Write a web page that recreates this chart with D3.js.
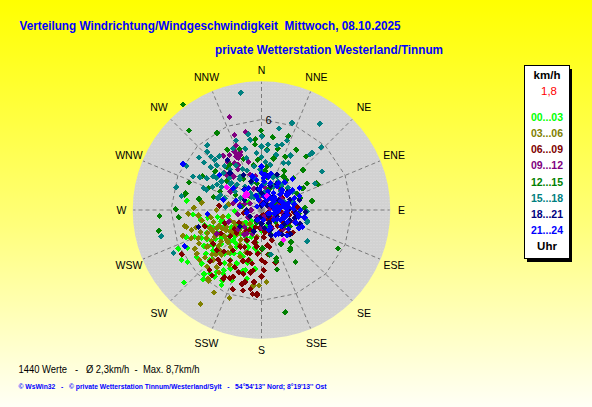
<!DOCTYPE html>
<html><head><meta charset="utf-8">
<script src="https://cdn.jsdelivr.net/npm/d3@7"></script>
<style>body{margin:0;overflow:hidden;background:#fff}svg{display:block}text{font-family:"Liberation Sans",Arial,sans-serif}</style>
</head><body>
<svg id="chart" width="592" height="407"></svg>
<script>
// ---------- data ----------
const titleText = "Verteilung Windrichtung/Windgeschwindigkeit  Mittwoch, 08.10.2025";
const subtitleText = "private Wetterstation Westerland/Tinnum";
const directionLabels = ["N","NNE","NE","ENE","E","ESE","SE","SSE","S","SSW","SW","WSW","W","WNW","NW","NNW"];
const ringValues = [6];
const speedMax = 8.5;
const legendUnit = "km/h";
const legendValue = "1,8";
const slotLabels = ["00...03","03...06","06...09","09...12","12...15","15...18","18...21","21...24"];
const legendFooter = "Uhr";
const statsText = "1440 Werte   -   Ø 2,3km/h  -  Max. 8,7km/h";
const footerText = "© WsWin32   -   © private Wetterstation Tinnum/Westerland/Sylt   -   54°54'13'' Nord; 8°19'13'' Ost";

// [direction in degrees, speed in km/h]
const slot00_03 = [[277,5.0],[245,6.1],[238,6.27],[227,7.05],[234,3.96],[249,3.07],[231,2.67],[214,2.95],[226,4.78],[218,4.5],[219,5.43],[216,3.57],[206,3.22],[199,2.95],[211,4.92],[203,5.07],[197,4.18],[193,3.42],[186,3.91],[247,3.96],[234,5.32],[228,5.33],[222,2.11],[259,2.24],[261,2.97],[252,3.6],[228,1.32],[206,1.23],[223,2.74],[243,5.52],[266,4.55],[261,4.08],[208,5.65],[216,5.08],[192,4.66],[254,2.78],[209,5.37],[195,4.15],[190,2.57],
 [230,1.8],[215,1.6],[240,2.3],[225,2.5],[210,2.1],[235,3.3],[220,3.8],[245,2.8],[200,2.6],[230,4.2],[212,3.4],[238,4.5],[255,3.9],[248,4.8],[225,3.0],[205,3.9],[190,2.2],[180,1.4],[160,1.1],[120,0.8],[300,1.0],[268,1.8],[222,1.0],
 [230,3.5],[225,3.9],[236,2.5],[242,3.3],[228,2.2],[218,2.8],[212,3.9],[208,4.4],[200,4.4],[195,3.6],[215,5.4],[222,5.7],[232,4.7],[242,4.1],[250,3.4],[256,2.7],[240,1.8],[232,1.4],[210,1.6],[200,1.9],[185,2.8],[220,6.0],[235,6.0],[250,5.3],[262,3.6],
 [205,2.3],[215,4.3],[225,4.6],[235,4.0],[245,4.4],[220,3.2],[228,2.9],[238,3.6],[212,4.7],[202,3.3]];
const slot03_06 = [[213,7.44],[200,6.2],[182,5.0],[176,4.79],[217,5.45],[217,5.85],[231,5.28],[248,5.01],[257,5.1],[267,4.87],[277,4.0],[240,3.56],[229,3.05],[231,2.11],[218,1.96],[236,4.38],[224,4.62],[226,3.84],[220,3.21],[236,5.18],[218,4.81],[258,5.2],[254,4.84],[240,5.12],[218,5.76],[186,5.03],
 [235,2.5],[245,2.9],[225,2.3],[240,3.2],[250,3.6],[230,3.7],[243,4.1],[222,4.0],[212,2.7],[235,1.6],[252,2.2],[262,3.4],[270,3.0],[228,4.4],[246,4.6],[200,3.0],[190,1.8],[280,2.2],[220,1.2],
 [240,2.7],[235,3.0],[245,3.5],[232,3.4],[238,3.9],[226,3.1],[250,4.3],[255,4.5],[260,4.0],[248,3.2],[242,4.7],[230,4.9],[224,5.2],[214,5.0],[210,4.2],[205,3.4],[215,2.4],[260,2.6],[265,4.2],[272,4.5],[228,2.0],[245,2.0],[218,3.6],[252,5.5],[210,6.3],
 [232,2.4],[238,2.1],[244,2.6],[250,3.0],[256,3.3],[236,4.3],[226,4.2],[247,3.9]];
const slot06_09 = [[174,1.34],[161,2.12],[171,2.36],[187,2.46],[195,3.44],[196,4.39],[193,4.9],[193,5.47],[183,5.67],[186,5.6],[178,4.0],[188,4.04],[203,4.82],[209,5.21],[212,3.93],[228,4.0],[221,5.27],[241,6.04],[254,3.92],[276,2.81],[93,2.14],[126,2.56],[102,1.04],[128,0.73],[206,2.23],[210,2.83],[227,2.26],[195,2.98],[218,4.5],[235,3.9],[221,4.38],[172,2.98],[186,4.8],[183,5.56],[209,5.07],[217,5.45],[160,0.35],
 [110,0.5],[140,0.9],[95,1.3],[150,0.6],[80,0.8],[120,1.6],[100,1.9],[70,1.2],[160,1.7],[200,1.2],[215,1.7],[190,1.9],[230,2.7],[180,3.3],[200,3.6],[205,4.2],[60,1.6],[85,2.4],[115,2.0],[175,0.4],[260,1.2],[240,1.7],
 [175,1.8],[185,2.9],[190,3.6],[180,4.4],[200,4.4],[205,2.7],[215,3.3],[222,3.7],[195,5.1],[188,5.3],[176,3.5],[168,2.5],[150,1.3],[135,1.5],[120,1.2],[105,1.5],[90,1.1],[75,1.9],[95,1.7],[130,2.3],[200,5.6],[225,4.8],[240,3.1],[235,2.2],[250,2.6],[210,1.5],[185,1.2],
 [192,2.2],[198,3.0],[180,2.6],[170,1.5],[165,3.6],[190,4.2],[205,5.0],[140,1.9]];
const slot09_12 = [[341,6.52],[340,5.29],[348.5,5.26],[335,3.92],[336,3.77],[339,3.93],[330,4.22],[315,3.28],[283,1.92],[283,1.46],[300,0.88],[215,0.54],[212,1.84],[242,3.36],[50,1.04],[18,1.17],[90,2.2],[330,3.1],[320,2.9],[338,4.6],[325,4.4],[333,3.37],[336,4.02],[342,2.45],[315,3.44],
 [0,0.5],[30,0.8],[270,0.7],[240,1.0],[200,0.8],[160,0.5],[120,1.0],[60,1.5],[340,1.5],[320,1.2],[225,1.6],[250,2.3],[215,2.0],[350,2.3],[310,2.3],[100,1.5],[150,1.4],[80,0.6],
 [335,4.3],[340,4.1],[330,3.6],[345,3.3],[325,3.9],[10,1.5],[40,1.9],[70,1.1],[90,0.9],[110,2.3],[130,1.9],[180,1.2],[200,1.7],[230,2.0],[260,1.6],[290,1.2],[300,2.4],[355,0.9]];
const slot12_15 = [[323.4,8.72],[317.7,7.13],[359.8,5.27],[0.3,4.93],[8.9,4.88],[354.4,4.35],[39.7,4.62],[45.7,3.82],[355.8,3.34],[13.2,3.51],[24.2,3.85],[7,2.91],[290.8,5.13],[281.1,5.19],[321.4,3.64],[62.3,3.11],[65.4,4.11],[266.6,6.77],[258.5,6.94],[144.4,3.28],[165.5,4.09],[146.9,4.11],[166.9,6.96],[116.8,5.68],[137.2,2.88],[292.2,3.82],[330.5,4.6],[340.4,3.59],[86.9,2.87],[111.5,2.6],[164,3.54],[178.5,2.56],[33.4,2.66],[64.7,2.6],[282.5,5.14],[270.4,5.69],
 [13,3.53],[24,3.88],[46,3.85],[40,2.6],[73,2.68],[62,3.04],[50,2.26],[64,4.06],[294,3.02],[325,3.66],[163,3.36],[143,3.18],[158,1.8],[123,1.86],
 [20,1.5],[350,1.8],[40,2.0],[300,2.0],[330,2.4],[10,2.2],[60,1.0],[280,1.3],[200,0.9],[130,1.2],[100,1.0],[310,3.0],[285,3.3],[30,3.0],
 [5,4.0],[355,4.7],[15,4.2],[30,4.6],[20,5.2],[350,3.0],[340,4.3],[310,4.0],[300,4.5],[60,3.5],[80,3.4],[95,2.5],[120,2.2],[150,2.6],[170,3.0],[45,3.0],[5,2.6],[280,4.2],[265,5.5],[330,5.9]];
const slot15_18 = [[350,7.89],[19.3,6.12],[34,6.9],[43.7,5.75],[57.6,4.77],[105,3.13],[92,2.98],[317,5.28],[316.7,4.89],[321.8,4.53],[317,4.54],[309.5,4.96],[345,4.19],[344,3.58],[351,4.73],[5.6,4.35],[13.5,4.39],[17.4,4.54],[5.1,3.97],[350,2.93],[25.2,3.44],[30,3.59],[10.9,3.06],[300.5,5.78],[296,5.05],[298,4.63],[284.8,5.84],[280,5.39],[290.7,4.09],[305.3,3.65],[314,3.52],[305.5,3.25],[244,6.48],[255.4,6.87],[322,3.39],[327.4,2.64],[315.4,2.34],[358,2.67],[24.7,2.45],[27,1.75],[326,1.34],[124.4,3.66],[168.1,3.02],[12.3,5.53],[0.3,4.89],[41.6,5.05],[41,4.88],[63.5,3.97],[75.4,2.19],[102.5,3.08],
 [300,3.07],[312,2.66],[305,2.15],[325,1.91],[288,2.55],[324,1.1],[7.5,1.79],[20,1.3],[39,2.14],
 [340,1.9],[10,1.2],[300,1.6],[330,1.0],[20,2.3],[0,3.5],[335,3.0],[310,2.7],[290,2.9],[45,1.8],[60,2.4],[75,2.1],[275,2.4],[350,1.0],
 [305,3.9],[315,4.2],[320,3.8],[330,3.4],[335,4.5],[310,4.4],[300,4.2],[295,3.6],[315,3.0],[325,2.5],[340,2.8],[345,2.2],[355,3.8],[5,3.2],[15,3.8],[20,4.9],[28,4.1],[0,4.2],[350,5.1],[340,4.9],[300,3.4],[290,3.9],[320,5.6],[310,5.4],[285,3.0],[30,2.2],[50,2.3],[70,1.6]];
const slot18_21 = [[103,2.26],[93,2.92],[255,4.34],[319.5,3.22],[332.8,2.62],[156.6,1.45],[205,0.74],[240,0.88],[17,0.46],[113.5,1.11],[129,1.75],[270,0.98],[232,1.8],[23.7,2.55],[1,1.11],[326,4.0],[104,2.3],
 [80,0.8],[60,1.3],[100,1.6],[130,0.6],[150,1.0],[180,0.9],[40,1.1],[20,1.7],[350,1.4],[300,1.3],[110,2.0],[90,1.8],[140,2.1],[70,2.0],[200,1.5],
 [85,1.0],[95,2.3],[120,1.8],[75,2.6],[55,2.1],[30,2.0],[10,2.3],[340,2.0],[320,1.8],[160,1.8],[170,1.2],[190,0.5],[110,2.7],[130,2.5],[50,0.5],[0,0.3]];
const slot21_24 = [[300.3,6.03],[0.5,2.44],[6,2.35],[3.6,2.11],[57.4,2.27],[57.2,2.46],[59.4,1.96],[80.7,1.37],[101,1.72],[116.4,2.75],[112.5,2.91],[118,1.41],[111,0.6],[28,0.76],[35.8,1.37],[33.3,1.86],[18,1.87],[351,2.02],[329,1.68],[307.7,2.36],[265.8,3.61],[244.7,5.63],[107,1.53],[130,1.04],[144,1.92],[77.7,1.04],[73,1.53],[95.4,2.37],[86,1.65],[152.5,1.25],[169,0.68],[306,0.38],[285,2.62],[279,1.44],[45.5,1.9],[76,1.85],[84,1.8],[94,1.69],[110.7,1.57],
 [0,2.89],[11.6,2.26],[32,2.1],[50,1.74],[49,1.19],[342,0.7],[320,1.72],[310,3.61],
 [40,1.0],[60,0.7],[90,0.9],[120,1.2],[20,1.3],[10,0.9],[50,1.6],[70,2.3],[100,2.5],[130,1.7],[160,1.4],[0,1.6],[340,1.0],[290,1.8],[260,1.0],[200,0.7],
 [15,0.4],[25,1.1],[45,1.2],[55,1.0],[65,1.4],[75,0.8],[85,1.2],[95,1.1],[105,0.9],[115,1.9],[125,2.2],[100,2.9],[90,2.6],[80,2.2],[70,2.7],[60,2.9],[40,2.4],[15,2.5],[5,1.9],[355,1.4],[345,2.3],[45,2.9],[110,2.4],[135,2.4],[150,1.9],[58,2.0],[88,2.1],[120,0.5],[80,1.6]];
const highlightPoints = [[143.7,2.48],[310.6,1.43],[317,1.37],[303,2.76],[318,1.48],[20,1.0]];

const slotSeries = [slot00_03, slot03_06, slot06_09, slot09_12, slot12_15, slot15_18, slot18_21, slot21_24];

// ---------- styles ----------
const slotColors = ["#00ff00","#808000","#800000","#800080","#008000","#008080","#000080","#0000ff"];
const highlightColor = "#ff00ff";

const W = 592, H = 407;
const cx = 261.5, cy = 210;
const svg = d3.select("#chart");
const defs = svg.append("defs");

const bg = defs.append("linearGradient").attr("id","bg").attr("x1",0).attr("y1",0).attr("x2",0).attr("y2",1);
bg.append("stop").attr("offset","0%").attr("stop-color","#ffff00");
bg.append("stop").attr("offset","55%").attr("stop-color","#ffff7a");
bg.append("stop").attr("offset","100%").attr("stop-color","#fffff6");
svg.append("rect").attr("width",W).attr("height",H).attr("fill","url(#bg)");

const pat = defs.append("pattern").attr("id","dots").attr("width",3).attr("height",3).attr("patternUnits","userSpaceOnUse");
pat.append("rect").attr("width",3).attr("height",3).attr("fill","#d2d2d2");
pat.append("rect").attr("x",1).attr("y",1).attr("width",1).attr("height",1).attr("fill","#dcdcdc");

// titles
svg.append("text").attr("x",19.5).attr("y",29.5).attr("fill","#0000ff").attr("font-weight","bold")
  .attr("font-size",13).attr("textLength",381).attr("lengthAdjust","spacingAndGlyphs").style("white-space","pre").text(titleText);
svg.append("text").attr("x",215).attr("y",54).attr("fill","#0000ff").attr("font-weight","bold")
  .attr("font-size",13).attr("textLength",228).attr("lengthAdjust","spacingAndGlyphs").text(subtitleText);

// scales
const r = d3.scaleLinear().domain([0, 6]).range([0, 90.5]);
const angle = d3.scaleLinear().domain([0, 360]).range([0, 2 * Math.PI]);
const dirAngle = d3.scalePoint().domain(directionLabels).range([0, 360 - 22.5]);

const g = svg.append("g").attr("transform", `translate(${cx},${cy})`);
g.append("circle").attr("r", r(speedMax) + 0.6).attr("fill","url(#dots)");

// spokes
g.selectAll("line.spoke").data(directionLabels).join("line").attr("class","spoke")
  .attr("x1",0).attr("y1",0)
  .attr("x2", d => d3.pointRadial(angle(dirAngle(d)), r(speedMax))[0])
  .attr("y2", d => d3.pointRadial(angle(dirAngle(d)), r(speedMax))[1])
  .attr("stroke","#7a7a7a").attr("stroke-width",1).attr("stroke-dasharray","4,3");

// rings (16-gon)
const ringLine = d3.lineRadial().angle(d => angle(dirAngle(d))).curve(d3.curveLinearClosed);
ringValues.forEach(v => {
  g.append("path").attr("d", ringLine.radius(() => r(v))(directionLabels))
    .attr("fill","none").attr("stroke","#7a7a7a").attr("stroke-width",1).attr("stroke-dasharray","4,3");
  g.append("text").attr("x", 7).attr("y", -r(v) + 4).attr("text-anchor","middle")
    .attr("font-size",11).attr("fill","#000").text(v);
});

// direction labels
svg.selectAll("text.dir").data(directionLabels).join("text").attr("class","dir")
  .attr("x", d => { const a = angle(dirAngle(d)); const rr = 140 + 5*Math.abs(Math.sin(2*a)); return cx + d3.pointRadial(a, rr)[0]; })
  .attr("y", d => { const a = angle(dirAngle(d)); const rr = 140 + 5*Math.abs(Math.sin(2*a)); return cy + d3.pointRadial(a, rr)[1] + 4; })
  .attr("text-anchor","middle").attr("font-size",10.5).attr("fill","#000").text(d => d);

// points
const marker = d3.symbol(d3.symbolSquare, 20);
function drawPoints(data, color) {
  g.append("g").attr("shape-rendering","crispEdges").selectAll("path").data(data).join("path")
    .attr("d", marker)
    .attr("transform", d => { const p = d3.pointRadial(angle(d[0]), r(d[1])); return `translate(${p[0]},${p[1]}) rotate(45)`; })
    .attr("fill", color);
}
slotSeries.forEach((s, i) => drawPoints(s, slotColors[i]));
drawPoints(highlightPoints, highlightColor);

// legend
const lx = 524, ly = 65, lw = 45, lh = 193;
svg.append("rect").attr("x",lx+3).attr("y",ly+4).attr("width",lw).attr("height",lh).attr("fill","#000");
svg.append("rect").attr("x",lx+0.5).attr("y",ly+0.5).attr("width",lw).attr("height",lh).attr("fill","#fff").attr("stroke","#000");
const lcx = lx + 23;
svg.append("text").attr("x",lcx).attr("y",79).attr("text-anchor","middle").attr("font-weight","bold").attr("font-size",11.5).text(legendUnit);
svg.append("text").attr("x",lcx+2).attr("y",94.5).attr("text-anchor","middle").attr("font-size",11.5).attr("fill","#ff0000").text(legendValue);
const ly0 = d3.scaleLinear().domain([0,1]).range([120.8, 137]);
svg.selectAll("text.slot").data(slotLabels).join("text").attr("class","slot")
  .attr("x",lcx).attr("y",(d,i) => ly0(i)).attr("text-anchor","middle").attr("font-weight","bold")
  .attr("font-size",10.5).attr("fill",(d,i) => slotColors[i]).text(d => d);
svg.append("text").attr("x",lcx).attr("y",250).attr("text-anchor","middle").attr("font-weight","bold").attr("font-size",11.5).text(legendFooter);

// bottom texts
svg.append("text").attr("x",18.5).attr("y",373).attr("font-size",11).attr("fill","#000")
  .attr("textLength",181).attr("lengthAdjust","spacingAndGlyphs").style("white-space","pre").text(statsText);
svg.append("text").attr("x",18.5).attr("y",388.5).attr("font-size",8).attr("font-weight","bold").attr("fill","#0000ff")
  .attr("textLength",308).attr("lengthAdjust","spacingAndGlyphs").style("white-space","pre").text(footerText);
</script>
</body></html>
